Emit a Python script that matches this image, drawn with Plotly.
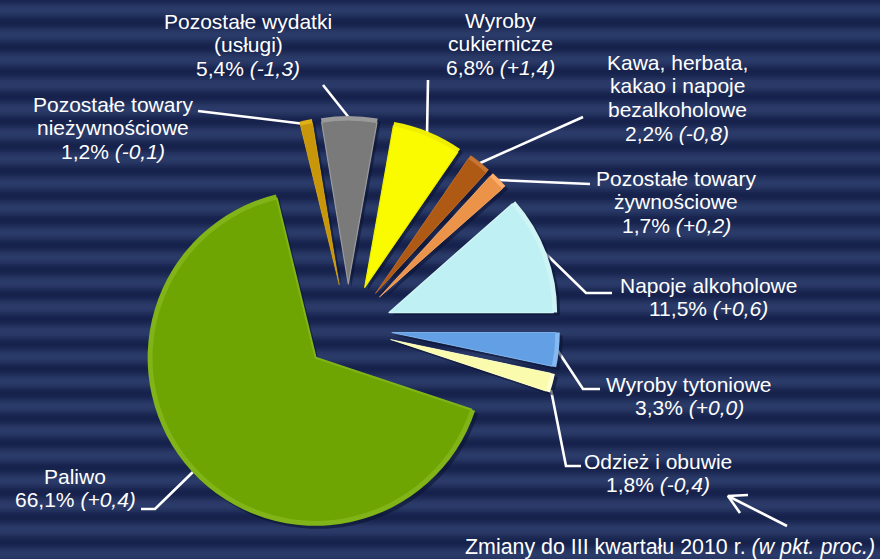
import plotly.graph_objects as go
import math

W, H = 880, 559

# Data
categories = ["Napoje alkoholowe", "Wyroby tytoniowe", "Odzież i obuwie", "Paliwo",
              "Pozostałe towary nieżywnościowe", "Pozostałe wydatki (usługi)",
              "Wyroby cukiernicze", "Kawa, herbata, kakao i napoje bezalkoholowe",
              "Pozostałe towary żywnościowe"]
shares = [11.5, 3.3, 1.8, 66.1, 1.2, 5.4, 6.8, 2.2, 1.7]
colors = ["#BEF0F4", "#629FE4", "#FBFBAE", "#6FA502", "#C8960A", "#7A7A7A", "#FBFB00", "#AE5A14", "#EC934A"]
rims = ["#CFF4F6", "#86B9F0", "#FFFFD0", "#80B418", "#E0B018", "#9A9A9A", "#EEEE00", "#C87432", "#FFAE6C"]
edge_widths = [1.5, 0.8, 0.6, 2, 0.4, 1.2, 1.2, 0.6, 0.6]

labels = [
    (["Pozostałe wydatki", "(usługi)", "5,4% <i>(-1,3)</i>"], 248, 21, 21),
    (["Wyroby", "cukiernicze", "6,8% <i>(+1,4)</i>"], 500, 20, 21),
    (["Kawa, herbata,", "kakao i napoje", "bezalkoholowe", "2,2% <i>(-0,8)</i>"], 677, 62, 21),
    (["Pozostałe towary", "żywnościowe", "1,7% <i>(+0,2)</i>"], 676, 178, 21),
    (["Napoje alkoholowe", "11,5% <i>(+0,6)</i>"], 708, 285, 21),
    (["Wyroby tytoniowe", "3,3% <i>(+0,0)</i>"], 689, 384, 21),
    (["Odzież i obuwie", "1,8% <i>(-0,4)</i>"], 658, 461, 21),
    (["Paliwo", "66,1% <i>(+0,4)</i>"], 75, 476, 21),
    (["Pozostałe towary", "nieżywnościowe", "1,2% <i>(-0,1)</i>"], 113, 104, 21),
    (["Zmiany do III kwartału 2010 r. <i>(w pkt. proc.)</i>"], 670, 547, 21.4),
]
LINE_PITCH = 23.7
leaders = [
    [(198, 111), (305, 124)],
    [(323, 85), (350, 119)],
    [(428, 80), (427, 135)],
    [(583, 117), (478, 164)],
    [(590, 184), (497, 180)],
    [(612, 293), (586, 293), (544, 252)],
    [(600, 389), (583, 389), (556, 348)],
    [(581, 466), (566, 466), (551, 390)],
    [(141, 509), (155, 509), (195, 470)],
    [(787, 526), (728, 496)],
    [(748, 495), (728, 496), (740, 513)],
]

# Slice geometry, in pixels
CX, CY, R, PULL_PX = 348, 328, 168, 44
ROTATION = 48.6


def dom(radius, dx=0, dy=0):
    half = radius + PULL_PX
    return dict(x=[(CX + dx - half) / W, (CX + dx + half) / W],
                y=[1 - (CY + dy + half) / H, 1 - (CY + dy - half) / H])


def pie(radius, marker, dx=0, dy=0, opacity=1):
    return go.Pie(values=shares, labels=categories, sort=False, direction="clockwise",
                  rotation=ROTATION, pull=[PULL_PX / radius] * len(shares), domain=dom(radius, dx, dy),
                  marker=marker, textinfo="none", hoverinfo="skip", showlegend=False, opacity=opacity)


fig = go.Figure()

# Leader lines and the arrow
for seg in leaders:
    fig.add_trace(go.Scatter(x=[p[0] for p in seg], y=[p[1] for p in seg], mode="lines",
                             line=dict(color="white", width=2.6), hoverinfo="skip", showlegend=False))

# Shadow, rim, face of the slices
fig.add_trace(pie(R, dict(colors=["#0A1230"] * 9, line=dict(width=0)), dx=3, dy=3, opacity=0.55))
fig.add_trace(pie(R, dict(colors=rims, line=dict(width=0))))
fig.add_trace(pie(R - 4, dict(colors=colors, line=dict(color=rims, width=edge_widths))))

# Striped backdrop
shapes = []
PERIOD, FIRST = 24.75, 10
dark, light = (22, 34, 76), (43, 59, 105)
for y in range(0, H, 2):
    t = (1 + math.cos(2 * math.pi * (y + 1 - FIRST) / PERIOD)) / 2
    c = [round(d + (l - d) * t) for d, l in zip(dark, light)]
    shapes.append(dict(type="rect", xref="paper", yref="paper", layer="below",
                       x0=0, x1=1, y0=1 - (y + 2) / H, y1=1 - y / H,
                       fillcolor=f"rgb({c[0]},{c[1]},{c[2]})", line=dict(width=0)))

annotations = []
for lines, x, y, size in labels:
    for i, text in enumerate(lines):
        annotations.append(dict(text=text, x=x, y=y + i * LINE_PITCH, xref="x", yref="y",
                                xanchor="center", yanchor="middle", showarrow=False,
                                font=dict(family="Liberation Sans", size=size, color="white")))

fig.update_layout(
    width=W, height=H, margin=dict(l=0, r=0, t=0, b=0), autosize=False,
    paper_bgcolor="#1B2A57", plot_bgcolor="rgba(0,0,0,0)",
    xaxis=dict(range=[0, W], visible=False, fixedrange=True, domain=[0, 1]),
    yaxis=dict(range=[H, 0], visible=False, fixedrange=True, domain=[0, 1]),
    shapes=shapes, annotations=annotations,
)
fig.write_html("out.html", config=dict(displayModeBar=False),
               post_script="document.documentElement.style.margin='0';document.body.style.margin='0';document.body.style.overflow='hidden';")
